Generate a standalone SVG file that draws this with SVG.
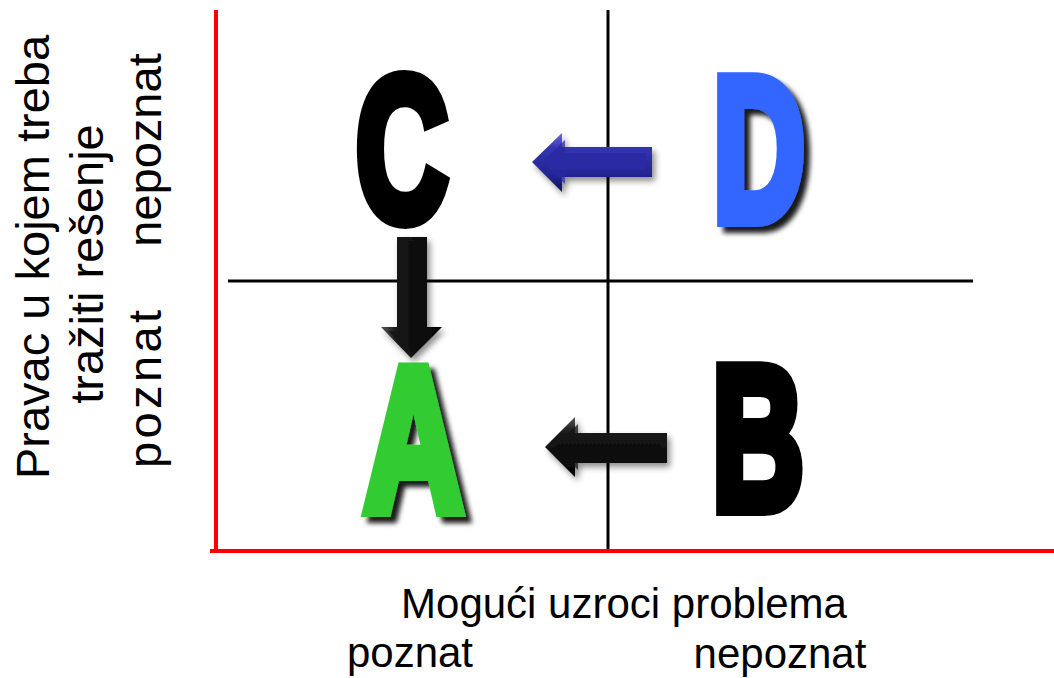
<svg xmlns="http://www.w3.org/2000/svg" width="1054" height="678" viewBox="0 0 1054 678">
  <defs>
    <filter id="shadow" x="-20%" y="-20%" width="150%" height="150%">
      <feDropShadow dx="6" dy="6" stdDeviation="2.5" flood-color="#000" flood-opacity="0.9"/>
    </filter>
    <filter id="ashadow" x="-20%" y="-20%" width="150%" height="150%">
      <feDropShadow dx="3" dy="4" stdDeviation="3" flood-color="#000" flood-opacity="0.45"/>
    </filter>
    <linearGradient id="blueH" x1="0" y1="0" x2="0" y2="1">
      <stop offset="0" stop-color="#6a6ad8"/>
      <stop offset="0.25" stop-color="#3434b0"/>
      <stop offset="0.75" stop-color="#23238f"/>
      <stop offset="1" stop-color="#0f0f55"/>
    </linearGradient>
    <linearGradient id="blackH" x1="0" y1="0" x2="0" y2="1">
      <stop offset="0" stop-color="#555"/>
      <stop offset="0.25" stop-color="#1a1a1a"/>
      <stop offset="0.75" stop-color="#0a0a0a"/>
      <stop offset="1" stop-color="#000"/>
    </linearGradient>
    <linearGradient id="blackV" x1="0" y1="0" x2="1" y2="0">
      <stop offset="0" stop-color="#555"/>
      <stop offset="0.25" stop-color="#1a1a1a"/>
      <stop offset="0.75" stop-color="#0a0a0a"/>
      <stop offset="1" stop-color="#000"/>
    </linearGradient>
    <style>
      .big { font-family: "Liberation Sans", Arial, sans-serif; font-weight: bold; font-size: 204px; stroke-width: 14px; stroke-linejoin: miter; }
      .lbl { font-family: "Liberation Sans", Arial, sans-serif; fill: #000; }
      .axis-red { stroke: #ff0000; stroke-width: 4; fill: none; }
      .axis-blk { stroke: #000; stroke-width: 3; fill: none; }
    </style>
  </defs>
  <rect width="1054" height="678" fill="#fff"/>

  <!-- axes / grid -->
  <g id="grid">
    <line class="axis-blk" x1="608" y1="10" x2="608" y2="553"/>
    <line class="axis-blk" x1="228" y1="281" x2="973" y2="281"/>
    <line class="axis-red" x1="216" y1="10" x2="216" y2="553"/>
    <line class="axis-red" x1="210" y1="551" x2="1054" y2="551"/>
  </g>

  <!-- connectors -->
  <g id="connectors">
    <g id="arrow-D-C" filter="url(#ashadow)">
      <polygon points="532,162 562,133 562,147 652,147 652,177 562,177 562,192" fill="url(#blueH)"/>
      <polygon points="542,162 565,140 565,153 646,153 646,171 565,171 565,184" fill="#2a2aa4" opacity="0.7"/>
    </g>
    <g id="arrow-B-A" filter="url(#ashadow)">
      <polygon points="545,447 575,417 575,433 667,433 667,463 575,463 575,477" fill="url(#blackH)"/>
      <polygon points="555,447 578,424 578,439 661,439 661,457 578,457 578,470" fill="#111" opacity="0.7"/>
    </g>
    <g id="arrow-C-A" filter="url(#ashadow)">
      <polygon points="397,237 427,237 427,327 442,327 411,358 381,327 397,327" fill="url(#blackV)"/>
      <polygon points="403,241 421,241 421,331 434,331 411,352 388,331 403,331" fill="#111" opacity="0.7"/>
    </g>
  </g>

  <!-- nodes -->
  <g id="node-C">
    <text class="big" x="356" y="220" textLength="92" lengthAdjust="spacingAndGlyphs" fill="#000" stroke="#000">C</text>
  </g>
  <g id="node-D" filter="url(#shadow)">
    <text class="big" x="713" y="220" textLength="92" lengthAdjust="spacingAndGlyphs" fill="#3366ff" stroke="#3366ff">D</text>
  </g>
  <g id="node-A" filter="url(#shadow)">
    <text class="big" x="364" y="510" textLength="99" lengthAdjust="spacingAndGlyphs" fill="#33cc33" stroke="#33cc33">A</text>
  </g>
  <g id="node-B">
    <text class="big" x="712" y="509" textLength="92" lengthAdjust="spacingAndGlyphs" fill="#000" stroke="#000">B</text>
  </g>

  <!-- axis labels -->
  <g id="labels">
    <text class="lbl" font-size="42" x="624" y="618" text-anchor="middle">Mogući uzroci problema</text>
    <text class="lbl" font-size="42" x="410" y="667" text-anchor="middle">poznat</text>
    <text class="lbl" font-size="42" x="780" y="668" text-anchor="middle">nepoznat</text>
    <text class="lbl" font-size="47" text-anchor="middle" transform="translate(49,257) rotate(-90)">Pravac u kojem treba</text>
    <text class="lbl" font-size="47" text-anchor="middle" transform="translate(103,264) rotate(-90)">tražiti rešenje</text>
    <text class="lbl" font-size="47" text-anchor="middle" transform="translate(161,150) rotate(-90)">nepoznat</text>
    <text class="lbl" font-size="47" transform="translate(161,468) rotate(-90)" textLength="158" lengthAdjust="spacing">poznat</text>
  </g>
</svg>
